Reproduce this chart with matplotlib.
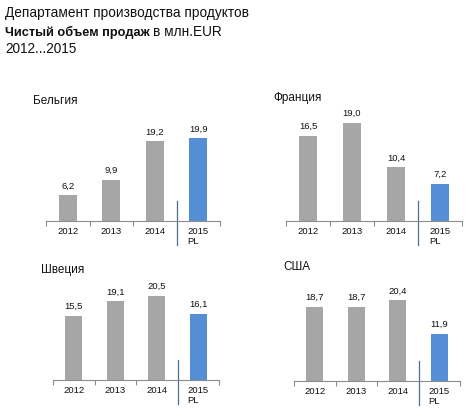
import matplotlib
matplotlib.use("Agg")
import matplotlib.pyplot as plt

# data
years = ["2012", "2013", "2014", "2015\nPL"]
belgium = [6.2, 9.9, 19.2, 19.9]
france = [16.5, 19.0, 10.4, 7.2]
sweden = [15.5, 19.1, 20.5, 16.1]
usa = [18.7, 18.7, 20.4, 11.9]

W, H = 476, 418
fig = plt.figure(figsize=(W / 100, H / 100), dpi=100)
plt.rcParams['font.family'] = ['Liberation Sans', 'DejaVu Sans']

GRAY = '#A6A6A6'
BLUE = '#558ED5'
AXIS = '#8C8C8C'
SEP = '#4F6D8F'


def panel(vals, title, left, right, base, scale, tx, ty):
    h = 120
    ax = fig.add_axes([left / W, 1 - base / H, (right - left) / W, h / H])
    colors = [GRAY] * 3 + [BLUE]
    ax.bar(range(4), vals, width=0.41, color=colors)
    ax.set_xlim(-0.5, 3.5)
    ax.set_ylim(0, h / scale)
    for s in ['top', 'right', 'left']:
        ax.spines[s].set_visible(False)
    ax.spines['bottom'].set_color(AXIS)
    ax.spines['bottom'].set_linewidth(0.8)
    ax.set_yticks([])
    ax.set_xticks([-0.5, 0.5, 1.5, 3.5])
    ax.set_xticklabels([])
    ax.tick_params(axis='x', length=3.5, width=0.8, color=AXIS)
    for i, v in enumerate(vals):
        ax.annotate(f"{v:.1f}".replace('.', ','), (i, v), xytext=(0, 3.5),
                    textcoords='offset points', ha='center', va='bottom',
                    fontsize=6.8, color='#111111')
    for i, lab in enumerate(years):
        ax.annotate(lab, (i, 0), xytext=(0, -4.5), textcoords='offset points',
                    ha='center', va='top', fontsize=6.8, color='#111111',
                    multialignment='left', linespacing=1.1)
    ax.plot([2.5, 2.5], [20 / scale, -24 / scale], color=SEP, lw=0.9,
            clip_on=False)
    fig.text(tx / W, 1 - ty / H, title, fontsize=8.5, color='#111111',
             ha='left', va='baseline')


panel(belgium, "Бельгия", 46, 220, 221, 4.15, 33, 104)
panel(france, "Франция", 286, 462, 221, 5.15, 273, 101)
panel(sweden, "Швеция", 53, 219, 380, 4.12, 41, 273)
panel(usa, "США", 294, 460, 381, 3.96, 283, 270)

# header
fig.text(5 / W, 1 - 17 / H, "Департамент производства продуктов",
         fontsize=9.8, color='#111111', va='baseline')
t = fig.text(5 / W, 1 - 36 / H, "Чистый объем продаж", fontsize=9.2,
             fontweight='bold', color='#111111', va='baseline')
fig.canvas.draw()
bb = t.get_window_extent(renderer=fig.canvas.get_renderer())
fig.text((bb.x1 + 3) / W, 1 - 36 / H, "в млн.EUR", fontsize=9.8,
         color='#111111', va='baseline')
fig.text(5 / W, 1 - 53 / H, "2012...2015", fontsize=9.8, color='#111111',
         va='baseline')

fig.savefig("out.png", dpi=100)
